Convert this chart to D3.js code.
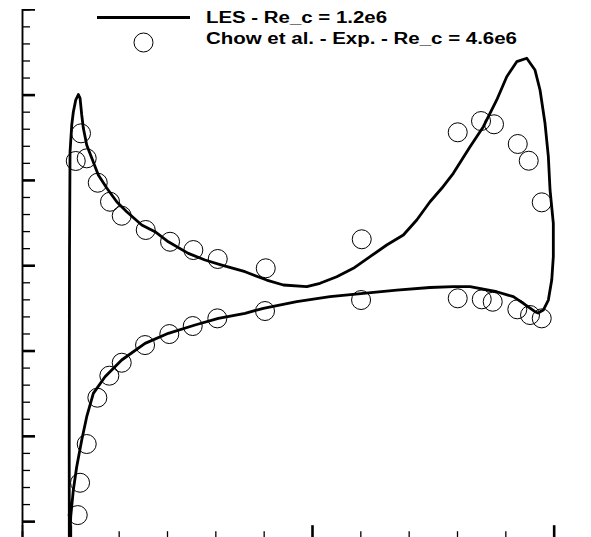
<!DOCTYPE html>
<html>
<head>
<meta charset="utf-8">
<script src="https://cdn.jsdelivr.net/npm/d3@7"></script>
<style>
  html, body { margin: 0; padding: 0; background: #fff; }
  svg { display: block; }
</style>
</head>
<body>
<svg id="chart" width="591" height="537"></svg>
<script>
// LES pressure distribution, closed loop: stagnation point -> suction side -> trailing edge -> pressure side
const lesX = [-0.0021, -0.0023, -0.0021, -0.0017, -0.0006, 0.0029, 0.0062, 0.0112, 0.0166, 0.0201,
  0.0236, 0.0269, 0.0339, 0.0443, 0.0579, 0.0753, 0.0960, 0.1167, 0.1477, 0.1752,
  0.2028, 0.2441, 0.2787, 0.3132, 0.3615, 0.4063, 0.4407, 0.4891, 0.5166, 0.5512,
  0.5855, 0.6201, 0.6546, 0.6890, 0.7167, 0.7442, 0.7684, 0.7924, 0.8270, 0.8545,
  0.8822, 0.9029, 0.9236, 0.9443, 0.9614, 0.9718, 0.9821, 0.9890, 0.9925, 0.9993,
  0.9993, 0.9960, 0.9890, 0.9786, 0.9677,
  0.9614, 0.9372, 0.9166, 0.8822, 0.8270, 0.7924, 0.7442, 0.6753, 0.6062, 0.5373,
  0.4684, 0.3993, 0.3615, 0.3062, 0.2580, 0.2028, 0.1546, 0.1063, 0.0718, 0.0476,
  0.0339, 0.0236, 0.0132, 0.0062, 0.0008, -0.0006, -0.0021];
const lesCp = [-3.280, -2.167, -0.994, 0.178, 1.327, 1.644, 1.796, 1.937, 2.001, 1.960,
  1.761, 1.608, 1.409, 1.257, 1.057, 0.905, 0.744, 0.627, 0.471, 0.393,
  0.275, 0.139, 0.061, 0.002, -0.076, -0.174, -0.232, -0.252, -0.212, -0.135,
  -0.036, 0.100, 0.237, 0.354, 0.530, 0.744, 0.902, 1.077, 1.389, 1.624,
  1.937, 2.210, 2.386, 2.426, 2.288, 2.054, 1.664, 1.272, 0.882, 0.491,
  0.100, -0.174, -0.408, -0.525, -0.560,
  -0.545, -0.447, -0.369, -0.311, -0.252, -0.252, -0.261, -0.291, -0.329, -0.369,
  -0.428, -0.505, -0.564, -0.623, -0.701, -0.798, -0.916, -1.111, -1.307, -1.502,
  -1.776, -2.049, -2.362, -2.635, -2.948, -3.183, -3.280];

// Chow et al. measurements
const expX = [0.0112, 0.0221, 0.0339, 0.0567, 0.0821, 0.1063, 0.1560, 0.2063, 0.2545, 0.3050,
  0.4043, 0.6029, 0.8015, 0.8497, 0.8766, 0.9257, 0.9484, 0.9753,
  0.0153, 0.0201, 0.0339, 0.0559, 0.0807, 0.1063, 0.1546, 0.2048, 0.2532, 0.3041,
  0.4028, 0.6015, 0.8015, 0.8512, 0.8739, 0.9248, 0.9511, 0.9753];
const expCp = [1.222, 1.546, 1.253, 0.967, 0.744, 0.580, 0.413, 0.275, 0.178, 0.073,
  -0.036, 0.304, 1.558, 1.690, 1.652, 1.421, 1.225, 0.737,
  -2.929, -2.550, -2.096, -1.553, -1.295, -1.143, -0.936, -0.807, -0.713, -0.623,
  -0.537, -0.408, -0.388, -0.400, -0.428, -0.517, -0.584, -0.623];

const legendLabels = ["LES - Re_c = 1.2e6", "Chow et al. - Exp. - Re_c = 4.6e6"];

const xDomain = [-0.1, 1.1];
const yDomain = [-3.2, 3];
const xMajorTicks = [0, 0.5, 1];
const xMinorTicks = d3.range(-1, 12).map(i => i / 10).filter(v => !xMajorTicks.some(m => Math.abs(m - v) < 1e-9));
const yMajorTicks = [-3, -2, -1, 0, 1, 2, 3];
const yMinorTicks = d3.range(-16, 16).map(i => i / 5).filter(v => !yMajorTicks.some(m => Math.abs(m - v) < 1e-9));

const svg = d3.select("#chart");
const x = d3.scaleLinear().domain(xDomain).range([22, 602]);
const y = d3.scaleLinear().domain(yDomain).range([538.2, 9.3]);

// axes: ticks point into the plot, no labels
const gAxes = svg.append("g");
const leftMinor = gAxes.append("g").attr("transform", `translate(${x(xDomain[0])},0)`)
  .call(d3.axisLeft(y).tickValues(yMinorTicks).tickSize(-8).tickFormat(""));
const leftMajor = gAxes.append("g").attr("transform", `translate(${x(xDomain[0])},0)`)
  .call(d3.axisLeft(y).tickValues(yMajorTicks).tickSize(-13).tickFormat(""));
const botMinor = gAxes.append("g").attr("transform", `translate(0,${y(yDomain[0])})`)
  .call(d3.axisBottom(x).tickValues(xMinorTicks).tickSize(-7).tickFormat(""));
const botMajor = gAxes.append("g").attr("transform", `translate(0,${y(yDomain[0])})`)
  .call(d3.axisBottom(x).tickValues(xMajorTicks).tickSize(-13).tickFormat(""));

gAxes.selectAll(".domain").attr("stroke", "#000").attr("stroke-width", 1.5);
[leftMinor, botMinor].forEach(g => g.selectAll(".tick line").attr("stroke", "#000").attr("stroke-width", 1.3));
[leftMajor, botMajor].forEach(g => g.selectAll(".tick line").attr("stroke", "#000").attr("stroke-width", 2.6));
leftMajor.selectAll(".tick").filter(d => d === yDomain[1]).select("line").attr("stroke-width", 1.4);

// LES curve
const line = d3.line()
  .x((d, i) => x(lesX[i]))
  .y((d, i) => y(lesCp[i]))
  .curve(d3.curveLinear);
svg.append("path")
  .datum(lesX)
  .attr("d", line)
  .attr("fill", "none")
  .attr("stroke", "#000")
  .attr("stroke-width", 2.8)
  .attr("stroke-linejoin", "round");

// experimental symbols
svg.append("g").selectAll("circle")
  .data(expX)
  .join("circle")
  .attr("cx", (d, i) => x(expX[i]))
  .attr("cy", (d, i) => y(expCp[i]))
  .attr("r", 9.5)
  .attr("fill", "none")
  .attr("stroke", "#000")
  .attr("stroke-width", 1);

// legend
const leg = svg.append("g").attr("font-family", "'Liberation Sans', Arial, Helvetica, sans-serif")
  .attr("font-weight", "bold").attr("font-size", 16);
leg.append("line").attr("x1", 97).attr("x2", 190).attr("y1", 17.5).attr("y2", 17.5)
  .attr("stroke", "#000").attr("stroke-width", 3);
leg.append("circle").attr("cx", 143.5).attr("cy", 42.5).attr("r", 9.5)
  .attr("fill", "none").attr("stroke", "#000").attr("stroke-width", 1);
leg.append("text").attr("x", 206).attr("y", 23.3)
  .attr("textLength", 181).attr("lengthAdjust", "spacingAndGlyphs").text(legendLabels[0]);
leg.append("text").attr("x", 206).attr("y", 43.6)
  .attr("textLength", 311).attr("lengthAdjust", "spacingAndGlyphs").text(legendLabels[1]);
</script>
</body>
</html>
